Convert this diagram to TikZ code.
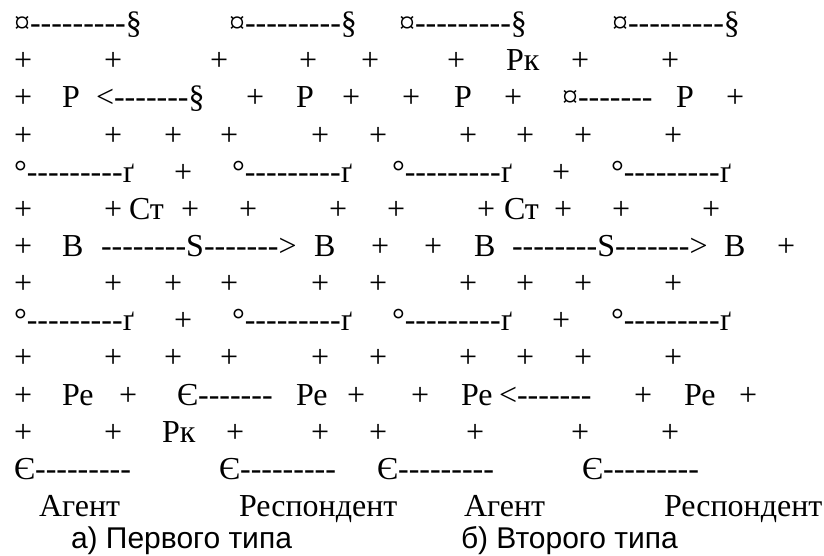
\documentclass[tikz,border=0pt]{standalone}
\usepackage{fontspec}
\setmainfont{Liberation Serif}[Ligatures=TeXOff]
\newfontfamily\capfont{Liberation Sans}[Ligatures=TeXOff]
\tikzset{
  tok/.style={anchor=base west,inner sep=0pt,outer sep=0pt,font=\fontsize{32}{37}\selectfont},
  captxt/.style={anchor=base west,inner sep=0pt,outer sep=0pt,font=\capfont\fontsize{30}{34}\selectfont}
}
\begin{document}
\begin{tikzpicture}[x=1pt,y=-1pt]
\useasboundingbox (0,0) rectangle (824,555);
% row 1
\foreach \x [count=\i] in {14,229,399,612}
  \node[tok] (ra-\i) at (\x,33.5) {¤---------§};
% row 2
\foreach \x/\t [count=\i] in {14/+,104/+,210/+,299/+,361/+,447/+,506/Рк,571/+,661/+}
  \node[tok] (rb-\i) at (\x,70.6) {\t};
% row 3
\foreach \x/\t [count=\i] in {14/+,62/Р,96/<-------§,246/+,296/Р,342/+,402/+,454/Р,504/+,562/¤-------,676/Р,726/+}
  \node[tok] (rc-\i) at (\x,107.8) {\t};
% row 4, 8, 10
\foreach \y/\r in {145.0/d,293.6/h,367.9/j}
  \foreach \x [count=\i] in {14,104,164,220,311,369,459,516,574,664}
    \node[tok] (r\r-\i) at (\x,\y) {+};
% row 5, 9
\foreach \y/\r in {182.1/e,330.7/i}
  \foreach \x/\t [count=\i] in {14/°---------ґ,174/+,232/°---------ґ,392/°---------ґ,552/+,611/°---------ґ}
    \node[tok] (r\r-\i) at (\x,\y) {\t};
% row 6
\foreach \x/\t [count=\i] in {14/+,104/+,129/Ст,181/+,239/+,329/+,387/+,477/+,504/Ст,554/+,612/+,702/+}
  \node[tok] (rf-\i) at (\x,219.3) {\t};
% row 7
\foreach \x/\t [count=\i] in {14/+,62/В,101/--------S------->,314/В,371/+,424/+,474/В,512/--------S------->,724/В,777/+}
  \node[tok] (rg-\i) at (\x,256.4) {\t};
% row 11
\foreach \x/\t [count=\i] in {14/+,62/Ре,119/+,177/Є-------,296/Ре,347/+,411/+,461/Ре,499/<-------,634/+,684/Ре,739/+}
  \node[tok] (rk-\i) at (\x,405.0) {\t};
% row 12
\foreach \x/\t [count=\i] in {14/+,104/+,162/Рк,226/+,311/+,369/+,466/+,571/+,661/+}
  \node[tok] (rl-\i) at (\x,442.2) {\t};
% row 13
\foreach \x [count=\i] in {14,219,377,582}
  \node[tok] (rm-\i) at (\x,479.3) {Є---------};
% row 14
\node[tok] (ag1) at (39,516.5) {Агент};
\node[tok] (re1) at (239,516.5) {Респондент};
\node[tok] (ag2) at (464,516.5) {Агент};
\node[tok] (re2) at (664,516.5) {Респондент};
% row 15
\node[captxt] (capa) at (71,548.5) {а) Первого типа};
\node[captxt] (capb) at (461,548.5) {б) Второго типа};
\end{tikzpicture}
\end{document}
